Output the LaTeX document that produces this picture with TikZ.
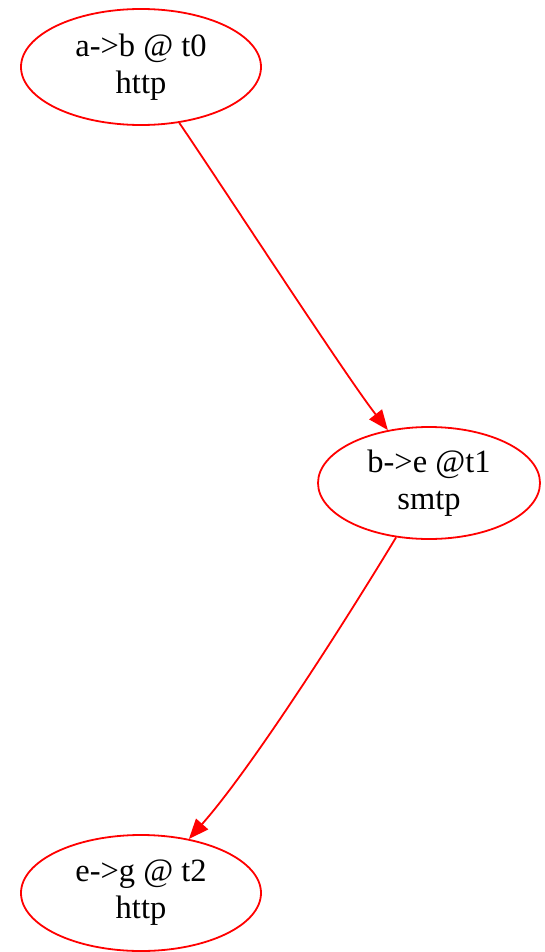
\documentclass[tikz,border=0pt]{standalone}
\usepackage{fontspec}
\setmainfont{Liberation Serif}
\usetikzlibrary{arrows.meta,shapes,positioning,calc}

\begin{document}
\begin{tikzpicture}[
    x=1pt, y=-1pt,
    font=\fontsize{32.5}{37}\selectfont,
    hop/.style={ellipse, draw=red, line width=1.8pt, minimum width=240pt,
        minimum height=116pt, inner sep=0pt, align=center},
    edge/.style={draw=red, line width=1.8pt,
        -{Triangle[length=20pt, width=16pt, fill=red]}}
]
    \useasboundingbox (0,0) rectangle (545,952);
    \node[hop] (ab) at (141,67) {a->b @ t0\\http};
    \node[hop, minimum width=222pt, minimum height=112pt] (be) at (429,483) {b->e @t1\\smtp};
    \node[hop] (eg) at (141,893) {e->g @ t2\\http};
    \draw[edge] (ab) .. controls (215,175) and (345,375) .. (be);
    \draw[edge] (be) .. controls (340,630) and (250,770) .. (eg);
\end{tikzpicture}
\end{document}
